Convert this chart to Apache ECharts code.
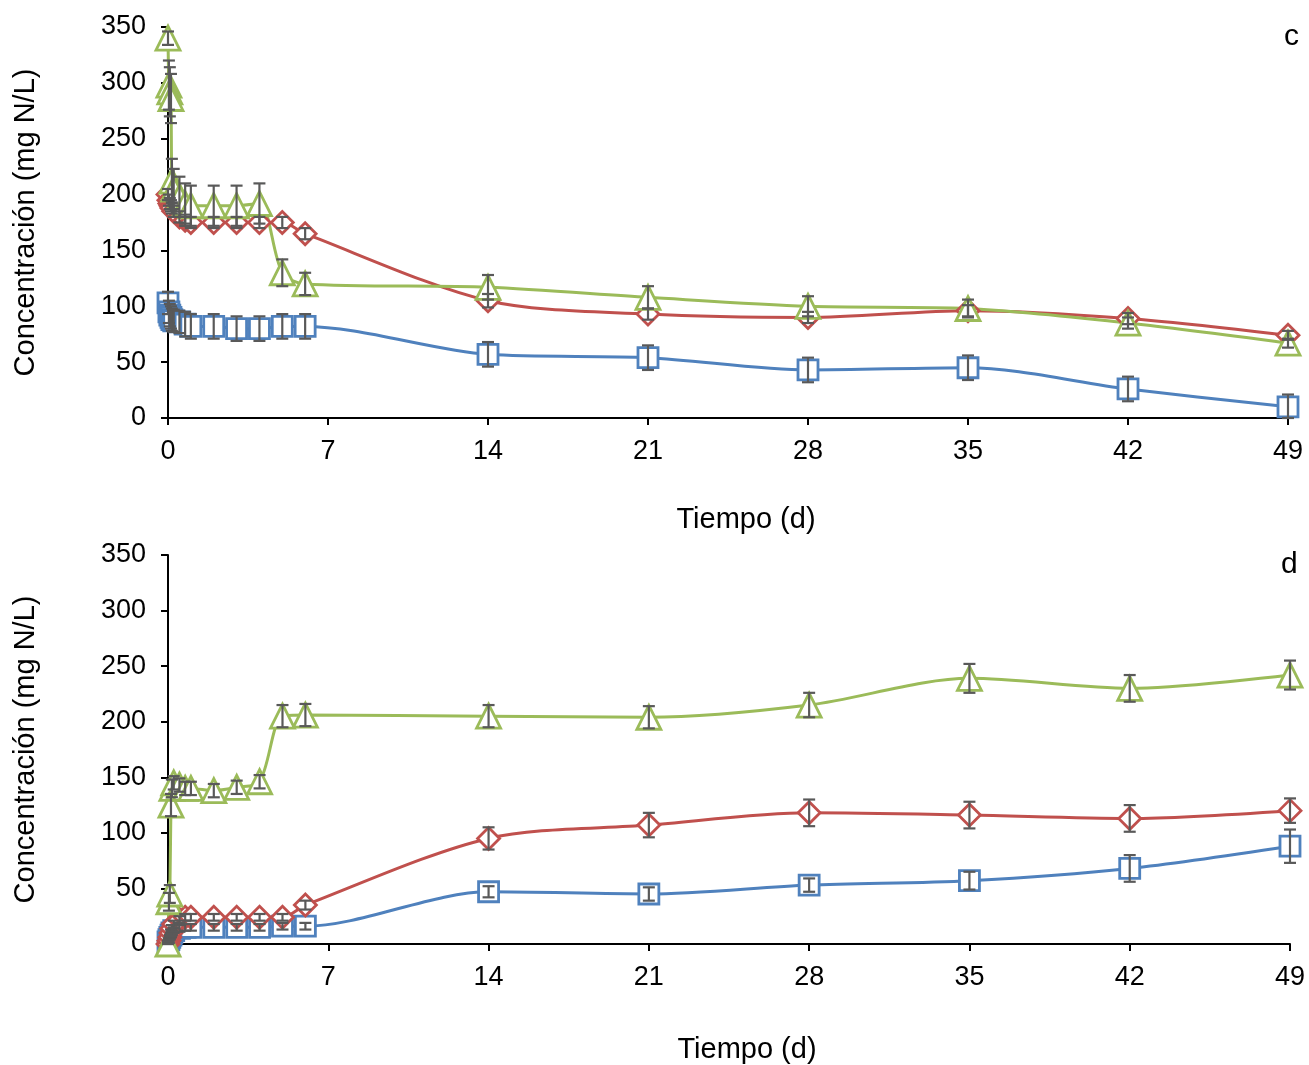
<!DOCTYPE html>
<html>
<head>
<meta charset="utf-8">
<script src="https://cdn.jsdelivr.net/npm/echarts@6/dist/echarts.min.js"></script>
<style>html,body{margin:0;padding:0;background:#fff}#c{width:1309px;height:1065px}</style>
</head>
<body>
<div id="c"></div>
<script>
const time = [0, 0.04, 0.08, 0.13, 0.17, 0.25, 0.5, 0.75, 1, 2, 3, 4, 5, 6, 14, 21, 28, 35, 42, 49];
const xTicks = [0, 7, 14, 21, 28, 35, 42, 49];
const yTicks = [0, 50, 100, 150, 200, 250, 300, 350];

// Panel c
const cBlue  = [103, 95, 92, 90, 88, 87, 86, 84, 82, 82, 80, 80, 82, 82, 57, 54, 43, 45, 26, 10];
const cRed   = [200, 195, 192, 190, 188, 185, 180, 177, 175, 175, 175, 175, 175, 165, 105, 93, 90, 96, 89, 74];
const cGreen = [340, 298, 292, 286, 212, 205, 198, 192, 190, 190, 190, 192, 130, 120, 117, 108, 100, 98, 85, 67];
const cBlueErr  = [10, 10, 10, 10, 10, 10, 10, 11, 11, 11, 11, 11, 11, 11, 11, 11, 11, 11, 11, 11];
const cRedErr   = [5, 5, 5, 5, 5, 5, 5, 5, 5, 5, 5, 5, 5, 5, 6, 5, 5, 5, 5, 4];
const cGreenErr = [6, 22, 22, 22, 20, 18, 18, 18, 18, 18, 18, 18, 12, 10, 11, 10, 9, 8, 5, 4];

// Panel d
const dBlue  = [2, 4, 6, 8, 10, 12, 14, 15, 15, 15, 15, 15, 16, 16, 47, 45, 53, 57, 68, 88];
const dRed   = [0, 3, 6, 10, 14, 18, 22, 24, 24, 24, 24, 24, 24, 35, 95, 107, 118, 116, 113, 120];
const dGreen = [0, 38, 45, 125, 140, 145, 143, 140, 140, 138, 141, 146, 205, 206, 205, 204, 215, 239, 230, 242];
const dBlueErr  = [1, 1, 1, 2, 2, 2, 3, 3, 3, 3, 3, 3, 3, 3, 5, 6, 6, 8, 12, 15];
const dRedErr   = [1, 2, 2, 3, 3, 3, 3, 3, 3, 3, 3, 3, 3, 4, 10, 11, 12, 12, 12, 11];
const dGreenErr = [2, 8, 8, 10, 8, 6, 6, 6, 6, 6, 6, 6, 10, 10, 10, 10, 11, 13, 12, 13];

const BLUE = '#4F81BD', RED = '#C0504D', GREEN = '#9BBB59';
const FONT = 'Liberation Sans, Arial, sans-serif';

function pairs(ys){ return time.map((t,i)=>[t, ys[i]]); }
function triples(ys, es){ return time.map((t,i)=>[t, ys[i], es[i]]); }

function errRender(params, api){
  const x = api.value(0), y = api.value(1), e = api.value(2);
  const top = api.coord([x, y + e]);
  const bot = api.coord([x, Math.max(0, y - e)]);
  const w = 6;
  const st = {stroke:'#595959', lineWidth:2.2};
  return {type:'group', children:[
    {type:'line', shape:{x1:top[0], y1:top[1], x2:bot[0], y2:bot[1]}, style:st},
    {type:'line', shape:{x1:top[0]-w, y1:top[1], x2:top[0]+w, y2:top[1]}, style:st},
    {type:'line', shape:{x1:bot[0]-w, y1:bot[1], x2:bot[0]+w, y2:bot[1]}, style:st}
  ]};
}

function lineSeries(idx, ys, color, symbol, size){
  return {type:'line', xAxisIndex:idx, yAxisIndex:idx, data:pairs(ys), smooth:0.3,
    symbol:symbol, symbolSize:size, showAllSymbol:true,
    lineStyle:{color:color, width:3},
    itemStyle:{color:'#fff', borderColor:color, borderWidth:2.8},
    z:2, animation:false};
}
function errSeries(idx, ys, es){
  return {type:'custom', xAxisIndex:idx, yAxisIndex:idx, data:triples(ys, es),
    renderItem:errRender, z:5, animation:false, clip:false};
}

function xAxis(idx){
  return {type:'value', gridIndex:idx, min:0, max:49, interval:7,
    name:'Tiempo (d)', nameLocation:'middle', nameGap: idx===0 ? 87 : 91,
    nameTextStyle:{fontFamily:FONT, fontSize:29, color:'#000', padding:[0,0,0,36]},
    axisLine:{show:true, onZero:false, lineStyle:{color:'#000', width:2}},
    axisTick:{show:true, inside:false, length:7, lineStyle:{color:'#000', width:2}},
    axisLabel:{fontFamily:FONT, fontSize:27, color:'#000', margin:20},
    splitLine:{show:false}};
}
function yAxis(idx){
  return {type:'value', gridIndex:idx, min:0, max:350, interval:50,
    name:'Concentración (mg N/L)', nameLocation:'middle', nameGap:128, nameRotate:90,
    nameTextStyle:{fontFamily:FONT, fontSize:29, color:'#000'},
    axisLine:{show:true, lineStyle:{color:'#000', width:2}},
    axisTick:{show:true, inside:false, length:7, lineStyle:{color:'#000', width:2}},
    axisLabel:{fontFamily:FONT, fontSize:27, color:'#000', margin:22},
    splitLine:{show:false}};
}

const chart = echarts.init(document.getElementById('c'), null, {renderer:'canvas'});
chart.setOption({
  backgroundColor:'#fff',
  animation:false,
  grid:[
    {left:168, width:1120, top:27, height:391, containLabel:false, outerBoundsMode:'none'},
    {left:168, width:1122, top:555, height:389, containLabel:false, outerBoundsMode:'none'}
  ],
  xAxis:[xAxis(0), xAxis(1)],
  yAxis:[yAxis(0), yAxis(1)],
  graphic:[
    {type:'text', left:1284, top:22, style:{text:'c', fontFamily:FONT, fontSize:30, fill:'#000'}},
    {type:'text', left:1281, top:550, style:{text:'d', fontFamily:FONT, fontSize:30, fill:'#000'}}
  ],
  series:[
    lineSeries(0, cBlue, BLUE, 'rect', 20),
    lineSeries(0, cRed, RED, 'diamond', 22),
    lineSeries(0, cGreen, GREEN, 'triangle', 24),
    errSeries(0, cBlue, cBlueErr),
    errSeries(0, cRed, cRedErr),
    errSeries(0, cGreen, cGreenErr),
    lineSeries(1, dBlue, BLUE, 'rect', 20),
    lineSeries(1, dRed, RED, 'diamond', 22),
    lineSeries(1, dGreen, GREEN, 'triangle', 24),
    errSeries(1, dBlue, dBlueErr),
    errSeries(1, dRed, dRedErr),
    errSeries(1, dGreen, dGreenErr)
  ]
});
</script>
</body>
</html>
